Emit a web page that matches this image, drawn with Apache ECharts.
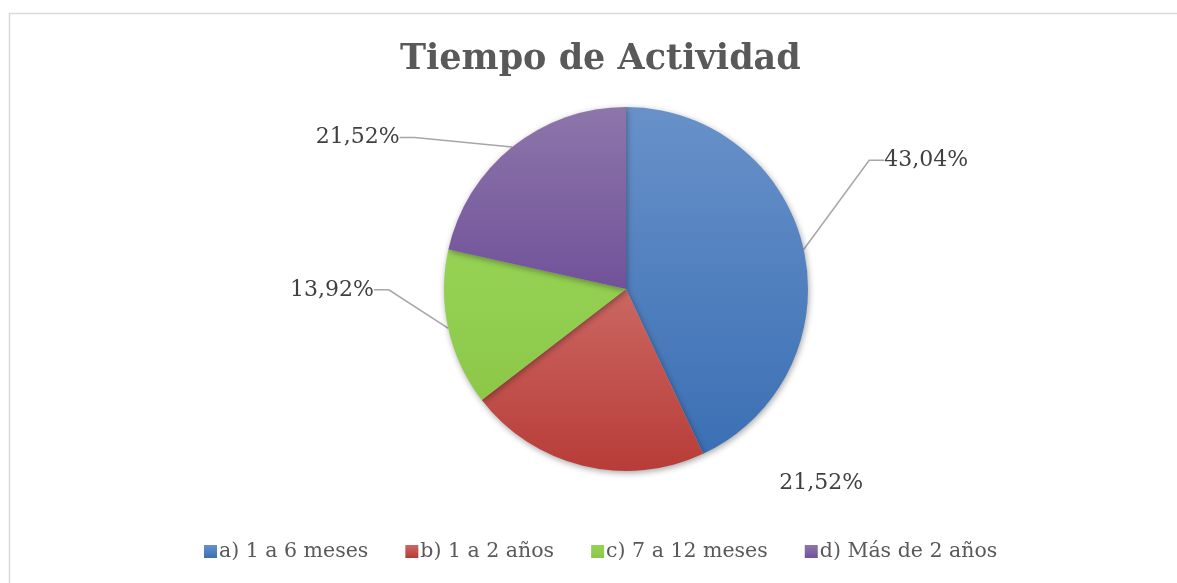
<!DOCTYPE html>
<html>
<head>
<meta charset="utf-8">
<title>Tiempo de Actividad</title>
<script src="https://cdn.jsdelivr.net/npm/echarts@6/dist/echarts.min.js"></script>
<style>
  html, body { margin: 0; padding: 0; background: #fff; }
  #chart { width: 1177px; height: 583px; }
</style>
</head>
<body>
<div id="chart"></div>
<script>
// datos
var categorias = ["a) 1 a 6 meses", "b) 1 a 2 años", "c) 7 a 12 meses", "d) Más de 2 años"];
var porcentajes = [43.04, 21.52, 13.92, 21.52];

// colores (claro arriba, oscuro abajo)
var coloresTop = ["#6891c9", "#cb6762", "#96d354", "#8d76aa"];
var coloresBottom = ["#3b6fb4", "#b83c38", "#8cc748", "#71529a"];
// desplazamiento de etiquetas, como en el original de Excel
var labelShift = [[41, -85], [305, -2], [-35, -43], [-80, 6]];

var myChart = echarts.init(document.getElementById("chart"));

var datos = categorias.map(function (c, i) {
  return {
    name: c,
    value: porcentajes[i],
    itemStyle: {
      color: new echarts.graphic.LinearGradient(0, 0, 0, 1, [
        { offset: 0, color: coloresTop[i] },
        { offset: 1, color: coloresBottom[i] },
      ]),
    },
    labelLine: { show: i !== 1 },
  };
});

var option = {
  backgroundColor: "#fff",
  animation: false,
  graphic: [
    {
      type: "rect",
      shape: { x: 9.5, y: 13.5, width: 1200, height: 600 },
      style: { fill: "none", stroke: "#d9d9d9", lineWidth: 1.5 },
      silent: true,
    },
  ],
  title: {
    text: "Tiempo de Actividad",
    left: 400,
    top: 42,
    padding: 0,
    textStyle: {
      fontFamily: "DejaVu Serif",
      fontWeight: "bold",
      fontSize: 35,
      color: "#595959",
    },
  },
  legend: {
    bottom: 21,
    left: 204,
    padding: 0,
    icon: "rect",
    itemWidth: 13,
    itemHeight: 13,
    itemGap: 37,
    textStyle: {
      fontFamily: "DejaVu Serif",
      fontSize: 20.5,
      color: "#595959",
      padding: [0, 0, 0, -3],
    },
    data: categorias,
  },
  series: [
    {
      type: "pie",
      center: [626, 289],
      radius: 182,
      startAngle: 90,
      clockwise: true,
      data: datos,
      itemStyle: {
        shadowColor: "rgba(0,0,0,0.35)",
        shadowBlur: 6,
        shadowOffsetX: 1,
        shadowOffsetY: 2,
      },
      label: {
        show: true,
        position: "outside",
        fontFamily: "DejaVu Serif",
        fontSize: 22,
        color: "#404040",
        formatter: function (p) {
          return p.value.toFixed(2).replace(".", ",") + "%";
        },
      },
      labelLine: {
        length: 20,
        length2: 15,
        lineStyle: { color: "#a6a6a6", width: 1.5 },
      },
      labelLayout: function (p) {
        var r = p.labelRect;
        var s = labelShift[p.dataIndex];
        var x0 = p.align === "right" ? r.x + r.width : r.x;
        return { x: x0 + s[0], y: r.y + r.height / 2 + s[1] };
      },
      emphasis: { disabled: true },
    },
  ],
};

myChart.setOption(option);
</script>
</body>
</html>
